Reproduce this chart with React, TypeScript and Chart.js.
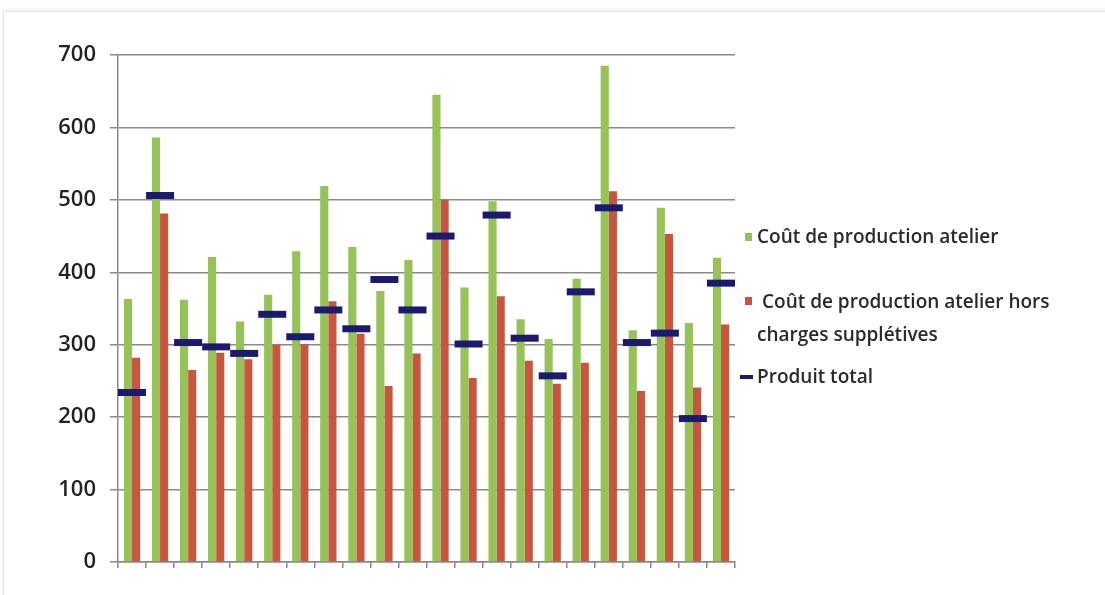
import React, { useEffect, useRef } from "react";
import { Chart, registerables } from "chart.js";

Chart.register(...registerables);

const categories = [
  "1", "2", "3", "4", "5", "6", "7", "8", "9", "10", "11",
  "12", "13", "14", "15", "16", "17", "18", "19", "20", "21", "22",
];
const coutAtelier = [
  363, 586, 362, 421, 332, 369, 429, 519, 435, 374, 417,
  645, 379, 498, 335, 308, 391, 685, 320, 489, 330, 420,
];
const coutHorsSupp = [
  282, 481, 265, 289, 280, 300, 301, 360, 315, 243, 288,
  500, 254, 367, 278, 246, 275, 512, 236, 453, 241, 328,
];
const produitTotal = [
  234, 506, 303, 297, 288, 342, 311, 348, 322, 390, 348,
  450, 301, 479, 309, 257, 373, 489, 303, 316, 198, 385,
];
const yTicks = [0, 100, 200, 300, 400, 500, 600, 700];

const GREEN = "#96c257";
const RED = "#c9553f";
const NAVY = "#1c1a6e";
const FONT = "'Open Sans', Lato, sans-serif";

export default function App() {
  const ref = useRef<HTMLCanvasElement | null>(null);

  useEffect(() => {
    document.body.style.margin = "0";
    const ctx = ref.current!.getContext("2d")!;
    const chart = new Chart(ctx, {
      type: "bar",
      data: {
        labels: categories,
        datasets: [
          {
            type: "line",
            label: "Produit total",
            data: produitTotal,
            showLine: false,
            pointStyle: "line",
            pointRadius: 14,
            pointHoverRadius: 14,
            pointBorderWidth: 7,
            borderColor: NAVY,
            backgroundColor: NAVY,
            order: 0,
          } as any,
          {
            label: "Coût de production atelier",
            data: coutAtelier,
            backgroundColor: GREEN,
            borderWidth: 0,
            categoryPercentage: 0.58,
            barPercentage: 1.0,
            order: 1,
          },
          {
            label: "Coût de production atelier hors charges supplétives",
            data: coutHorsSupp,
            backgroundColor: RED,
            borderWidth: 0,
            categoryPercentage: 0.58,
            barPercentage: 1.0,
            order: 1,
          },
        ],
      },
      options: {
        animation: false,
        responsive: false,
        maintainAspectRatio: false,
        layout: { padding: { left: 0, right: 370, top: 55, bottom: 27 } },
        plugins: {
          legend: { display: false },
          tooltip: { enabled: false },
        },
        scales: {
          x: {
            offset: true,
            grid: {
              display: true,
              offset: true,
              drawOnChartArea: false,
              drawTicks: true,
              tickLength: 6,
              color: "#8a8a8a",
              lineWidth: 1.5,
            },
            border: { color: "#8a8a8a", width: 1.5 },
            ticks: { display: false },
          },
          y: {
            min: 0,
            max: 700,
            afterBuildTicks: (scale: any) => {
              scale.ticks = yTicks.map((v) => ({ value: v }));
            },
            afterFit: (scale: any) => {
              scale.width = 118;
            },
            grid: {
              color: "#8a8a8a",
              lineWidth: 1.5,
              tickLength: 8,
            },
            border: { color: "#8a8a8a", width: 1.5 },
            ticks: {
              padding: 14,
              color: "#222",
              font: { family: FONT, size: 22, weight: 600 },
            },
          },
        },
      },
    });
    return () => chart.destroy();
  }, []);

  const legendText: React.CSSProperties = {
    position: "absolute",
    fontFamily: FONT,
    fontSize: 19,
    fontWeight: 600,
    color: "#2a2a2a",
    whiteSpace: "nowrap",
    lineHeight: "33px",
  };

  return (
    <div style={{ position: "relative", width: 1105, height: 595, background: "#fff", overflow: "hidden" }}>
      <div
        style={{
          position: "absolute",
          left: 3,
          top: 11,
          width: 1120,
          height: 600,
          border: "1px solid #e2e2e2",
          boxShadow: "0 -2px 4px rgba(0,0,0,0.06)",
        }}
      />
      <canvas ref={ref} width={1105} height={595} style={{ position: "absolute", left: 0, top: 0 }} />
      <div style={{ position: "absolute", left: 745, top: 233, width: 7, height: 8, background: GREEN }} />
      <div style={{ ...legendText, left: 757, top: 220 }}>Coût de production atelier</div>
      <div style={{ position: "absolute", left: 745, top: 297, width: 7, height: 8, background: RED }} />
      <div style={{ ...legendText, left: 762, top: 285 }}>Coût de production atelier hors</div>
      <div style={{ ...legendText, left: 757, top: 318 }}>charges supplétives</div>
      <div style={{ position: "absolute", left: 740, top: 375, width: 13, height: 4, background: NAVY }} />
      <div style={{ ...legendText, left: 757, top: 360 }}>Produit total</div>
    </div>
  );
}
